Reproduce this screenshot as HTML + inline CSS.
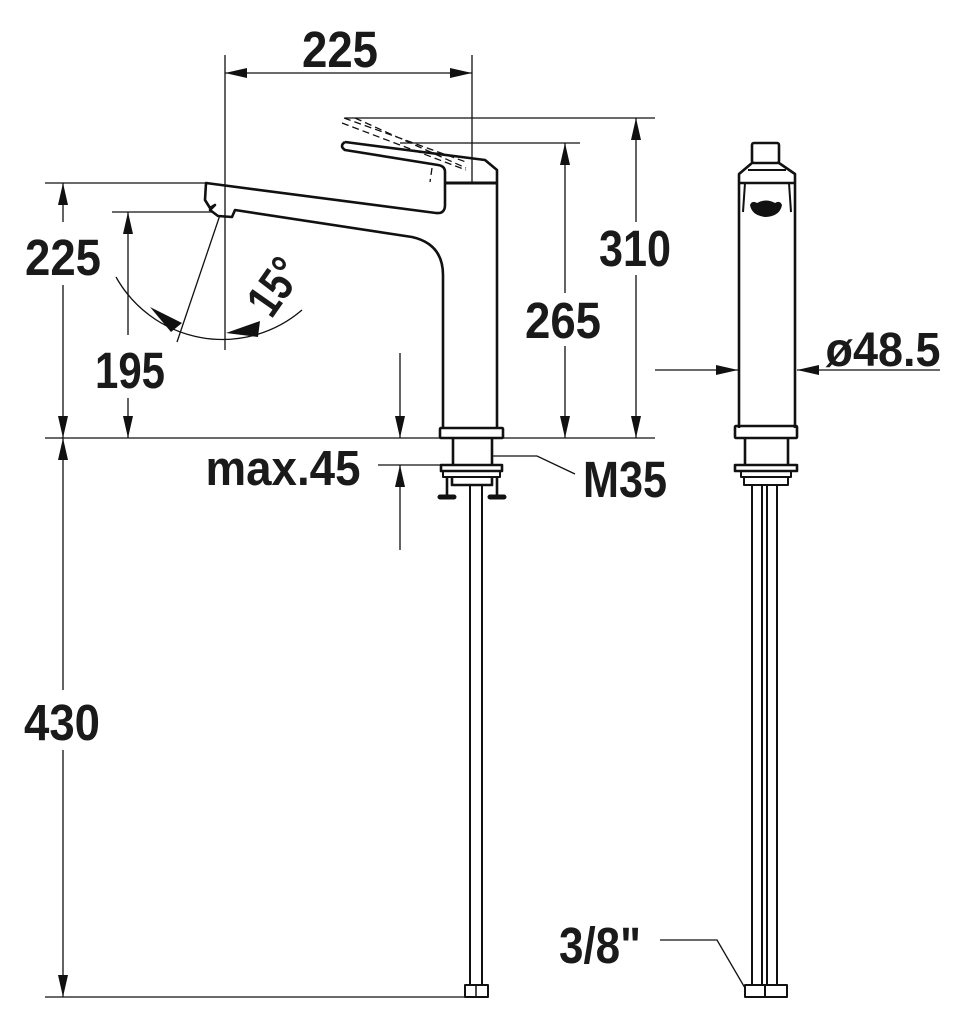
<!DOCTYPE html>
<html><head><meta charset="utf-8"><style>
html,body{margin:0;padding:0;background:#fff}
svg{display:block}
text{font-family:"Liberation Sans",sans-serif;font-weight:bold;fill:#1a1a1a}
</style></head><body>
<svg width="965" height="1024" viewBox="0 0 965 1024" xmlns="http://www.w3.org/2000/svg">
<defs>
<marker id="a" viewBox="0 0 22 10" refX="22" refY="5" markerWidth="22" markerHeight="10" markerUnits="userSpaceOnUse" orient="auto-start-reverse"><path d="M0,0 L22,5 L0,10 Z" fill="#111"/></marker>
</defs>
<g stroke="#111" fill="none" stroke-width="1.3">
<line x1="225" y1="55" x2="225" y2="350"/>
<line x1="472" y1="55" x2="472" y2="183"/>
<line x1="345" y1="118" x2="655" y2="118"/>
<line x1="400" y1="143" x2="580" y2="143"/>
<line x1="45" y1="183" x2="206" y2="183"/>
<line x1="112" y1="212" x2="212" y2="212"/>
<line x1="45" y1="438" x2="655" y2="438"/>
<line x1="45" y1="997" x2="466" y2="997"/>
<line x1="378" y1="465" x2="443" y2="465"/>
<line x1="225" y1="73" x2="472" y2="73" marker-start="url(#a)" marker-end="url(#a)"/>
<line x1="636" y1="118" x2="636" y2="222" marker-start="url(#a)"/>
<line x1="636" y1="275" x2="636" y2="438" marker-end="url(#a)"/>
<line x1="565" y1="143" x2="565" y2="293" marker-start="url(#a)"/>
<line x1="565" y1="346" x2="565" y2="438" marker-end="url(#a)"/>
<line x1="63" y1="183" x2="63" y2="222" marker-start="url(#a)"/>
<line x1="63" y1="285" x2="63" y2="438" marker-end="url(#a)"/>
<line x1="128" y1="212" x2="128" y2="335" marker-start="url(#a)"/>
<line x1="128" y1="398" x2="128" y2="438" marker-end="url(#a)"/>
<line x1="63" y1="438" x2="63" y2="690" marker-start="url(#a)"/>
<line x1="63" y1="750" x2="63" y2="997" marker-end="url(#a)"/>
<line x1="400" y1="353" x2="400" y2="438" marker-end="url(#a)"/>
<line x1="400" y1="550" x2="400" y2="465" marker-end="url(#a)"/>
<line x1="655" y1="370" x2="738" y2="370" marker-end="url(#a)"/>
<line x1="940" y1="370" x2="797" y2="370" marker-end="url(#a)"/>
<polyline points="492,456 537,456 575,474"/>
<polyline points="660,940 717,940 745,988"/>
<line x1="220" y1="215" x2="177" y2="342"/>
<path d="M116,277 A122,122 0 0 0 302,310"/>
</g>
<path d="M150,307 L182,323 L171,332 Z" fill="#111"/>
<path d="M226,333 L260,321 L258,337 Z" fill="#111"/>
<g stroke="#111" fill="none" stroke-width="1.3" stroke-dasharray="7,4">
<path d="M344,118 L466,162 M342,123 L466,170 M355,118 L466,168 M432,168 L430,182"/>
</g>
<g stroke="#111" fill="none" stroke-width="2.6" stroke-linejoin="round">
<path d="M345,142 L485,160 L497,170 L497,428"/>
<path d="M345,142 Q339,146 345,150 L438,165 Q445,166 445,172 L445,205 Q445,214 436,213 L206,183 L205,200 L210,208 L215,205 L210,210 L218,216 L232,217 L235,210 L412,237 Q443,244 443,275 L443,428"/>
<line x1="445" y1="183" x2="497" y2="183" stroke-width="3"/>
<rect x="440" y="428" width="63" height="10" rx="1"/>
<path d="M453,438 L453,465 M492,438 L492,465"/>
<rect x="441" y="465" width="61" height="6"/>
<rect x="443" y="471" width="57" height="6" stroke-width="2"/>
<path d="M447,477 L447,495 M497,477 L497,495 M452,477 L452,485 L492,485 L492,477"/>
<path d="M440,497 L454,497 M490,497 L504,497" stroke-width="5" stroke-linecap="round"/>
<path d="M470,485 L470,985 M482,485 L482,985" stroke-width="2"/>
<rect x="465" y="985" width="23" height="12" stroke-width="2"/>
<line x1="476" y1="985" x2="476" y2="997" stroke-width="1.5"/>
</g>
<g stroke="#111" fill="none" stroke-width="2.6" stroke-linejoin="round">
<rect x="752" y="143" width="27" height="20" rx="2"/>
<path d="M752,163 L739,174 L739,428 M779,163 L795,174 L795,428"/>
<line x1="739" y1="183" x2="795" y2="183"/>
<line x1="748" y1="170" x2="786" y2="170" stroke-width="2"/>
<path d="M745,183 L743,212 M789,183 L791,212" stroke-width="2"/>
<rect x="735" y="426" width="62" height="12" rx="1"/>
<path d="M745,438 L745,465 M788,438 L788,465"/>
<rect x="735" y="465" width="62" height="6"/>
<rect x="741" y="471" width="50" height="6" stroke-width="2"/>
<rect x="744" y="477" width="44" height="8" stroke-width="2"/>
<path d="M752,485 L752,985 M762,485 L762,985 M767,485 L767,985 M777,485 L777,985" stroke-width="2"/>
<rect x="745" y="985" width="20" height="12" stroke-width="2"/>
<rect x="765" y="985" width="22" height="12" stroke-width="2"/>
</g>
<path d="M750,205 Q752,200 757,203 Q766,198 775,203 Q780,200 782,205 Q780,216 766,217 Q752,216 750,205 Z" fill="#111"/>
<text x="340" y="67" font-size="51" text-anchor="middle" textLength="76" lengthAdjust="spacingAndGlyphs">225</text>
<text x="635" y="266" font-size="51" text-anchor="middle" textLength="72" lengthAdjust="spacingAndGlyphs">310</text>
<text x="563" y="338" font-size="51" text-anchor="middle" textLength="76" lengthAdjust="spacingAndGlyphs">265</text>
<text x="63" y="275" font-size="51" text-anchor="middle" textLength="76" lengthAdjust="spacingAndGlyphs">225</text>
<text x="130" y="388" font-size="51" text-anchor="middle" textLength="70" lengthAdjust="spacingAndGlyphs">195</text>
<text x="62" y="740" font-size="51" text-anchor="middle" textLength="76" lengthAdjust="spacingAndGlyphs">430</text>
<text x="283" y="485" font-size="49" text-anchor="middle" textLength="155" lengthAdjust="spacingAndGlyphs">max.45</text>
<text x="625" y="497" font-size="51" text-anchor="middle" textLength="84" lengthAdjust="spacingAndGlyphs">M35</text>
<text x="883" y="366" font-size="48" text-anchor="middle" textLength="115" lengthAdjust="spacingAndGlyphs">ø48.5</text>
<text x="600" y="963" font-size="51" text-anchor="middle" textLength="82" lengthAdjust="spacingAndGlyphs">3/8"</text>
<text x="0" y="0" font-size="48" text-anchor="middle" textLength="58" lengthAdjust="spacingAndGlyphs" transform="translate(288,296) rotate(-55)">15°</text>
</svg>
</body></html>
